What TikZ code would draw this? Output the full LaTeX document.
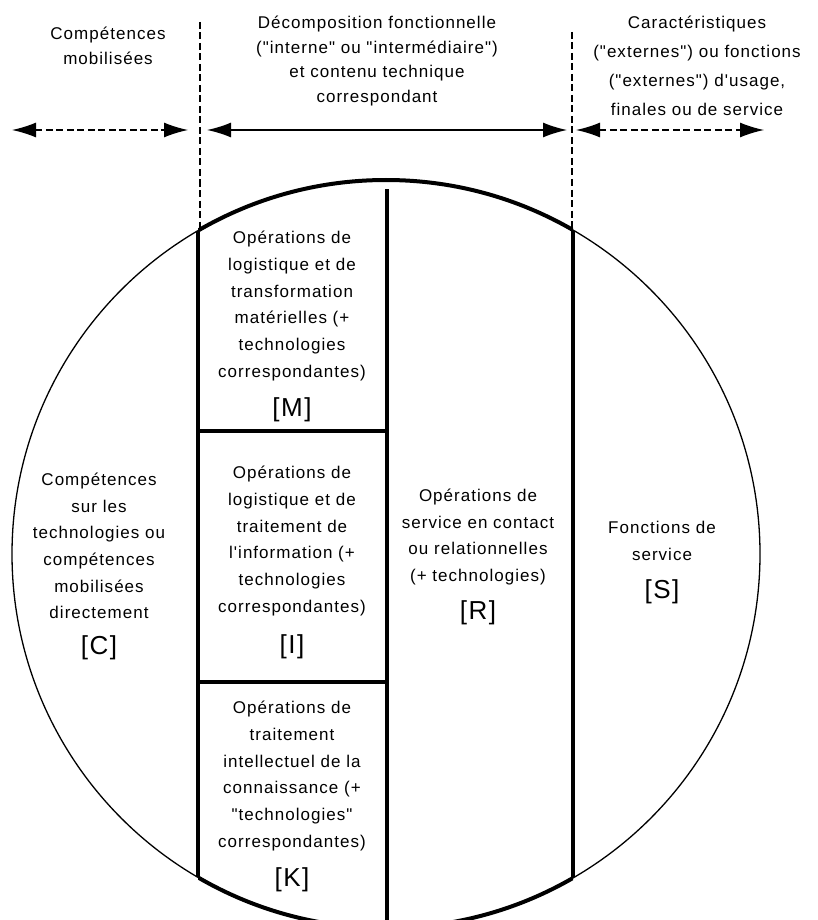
\documentclass[tikz,border=0pt]{standalone}
\usepackage{fontspec}
\setmainfont{Liberation Sans}[LetterSpace=6, Ligatures=TeXOff]
\usepackage{tikz}
\usetikzlibrary{arrows.meta}

\begin{document}
\begin{tikzpicture}[x=1pt,y=-1pt,>={Latex[length=24pt,width=15pt]}]
\tikzset{
    txt/.style={%
        align=center, inner sep=0pt,
        font=\fontsize{17}{26.7}\selectfont
        },
    head/.style={%
        align=center, inner sep=0pt,
        font=\fontsize{17}{24.5}\selectfont
        },
    tag/.style={%
        inner sep=0pt,
        font=\fontsize{26}{30}\selectfont
        },
    heavy/.style={line width=4pt},
    guide/.style={line width=1.3pt, dash pattern=on 7pt off 3.5pt},
}
\useasboundingbox (0,0) rectangle (818,920);
%%%CIRCLE
\coordinate (o) at (386,554);
\draw[line width=1.3pt] (o) circle (374);
\begin{scope}
\clip (198,0) rectangle (573,920);
\draw[heavy] (o) circle (374);
\end{scope}
\begin{scope}
\clip (o) circle (374);
\draw[heavy] (198,0) -- (198,920);
\draw[heavy] (573,0) -- (573,920);
\draw[heavy] (198,431) -- (387,431);
\draw[heavy] (198,682) -- (387,682);
\end{scope}
\draw[heavy] (387,189) -- (387,920);
%%%HEADINGS
\node[head] (hc) at (108,46) {Compétences\\mobilisées};
\node[head] (hd) at (377,61) {Décomposition fonctionnelle\\("interne" ou "intermédiaire")\\et contenu technique\\correspondant};
\node[head, font=\fontsize{17}{29}\selectfont] (hs) at (697,66) {Caractéristiques\\("externes") ou fonctions\\("externes") d'usage,\\finales ou de service};
%%%SEPARATORS
\coordinate (sl1) at (200,22);
\coordinate (sl2) at (200,229);
\coordinate (sr1) at (572,32);
\coordinate (sr2) at (572,231);
\draw[guide] (sl1) -- (sl2);
\draw[guide] (sr1) -- (sr2);
%%%ARROWS
\coordinate (a1) at (12,130);
\coordinate (a2) at (188,130);
\coordinate (a3) at (207,130);
\coordinate (a4) at (567,130);
\coordinate (a5) at (576,130);
\coordinate (a6) at (764,130);
\draw[<->, guide] (a1) -- (a2);
\draw[<->, line width=1.5pt] (a3) -- (a4);
\draw[<->, guide] (a5) -- (a6);
%%%BLOCKS
\node[txt] (m) at (292,306) {Opérations de\\logistique et de\\transformation\\matérielles (+\\technologies\\correspondantes)};
\node[tag] (mt) at (292,410) {[M]};
\node[txt] (i) at (292,541) {Opérations de\\logistique et de\\traitement de\\l'information (+\\technologies\\correspondantes)};
\node[tag] (it) at (292,647) {[I]};
\node[txt] (k) at (292,776) {Opérations de\\traitement\\intellectuel de la\\connaissance (+\\"technologies"\\correspondantes)};
\node[tag] (kt) at (292,880) {[K]};
\node[txt] (c) at (99,546) {Compétences\\sur les\\technologies ou\\compétences\\mobilisées\\directement};
\node[tag] (ct) at (99,648) {[C]};
\node[txt] (r) at (478,537) {Opérations de\\service en contact\\ou relationnelles\\(+ technologies)};
\node[tag] (rt) at (478,613) {[R]};
\node[txt] (s) at (662,541) {Fonctions de\\service};
\node[tag] (st) at (662,592) {[S]};
\end{tikzpicture}
\end{document}
